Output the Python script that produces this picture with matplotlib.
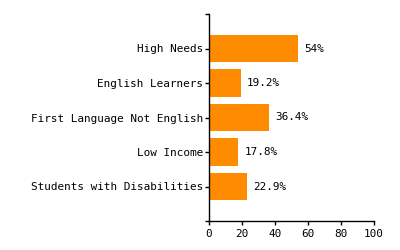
import matplotlib
matplotlib.use("Agg")
import matplotlib.pyplot as plt

# Share of students by group (%)
categories = ['High Needs', 'English Learners', 'First Language Not English',
              'Low Income', 'Students with Disabilities']
values = [54, 19.2, 36.4, 17.8, 22.9]
value_labels = ['54%', '19.2%', '36.4%', '17.8%', '22.9%']
x_ticks = [0, 20, 40, 60, 80, 100]

BAR_COLOR = '#FF8C00'
PX = 0.72  # points per pixel at dpi 100

plt.rcParams['font.family'] = ['DejaVu Sans Mono']
plt.rcParams['font.size'] = 7.9

fig = plt.figure(figsize=(4, 2.5), dpi=100)
ax = fig.add_axes([209 / 400, 1 - 221 / 250, 165 / 400, 207 / 250])

pos = list(range(1, len(categories) + 1))
ax.barh(pos, values, height=0.8, color=BAR_COLOR)
for p, v, lab in zip(pos, values, value_labels):
    ax.annotate(lab, (v, p), xytext=(6, 0), textcoords='offset pixels',
                va='center', ha='left', color='black')

ax.set_ylim(len(categories) + 1, 0)
ax.set_xlim(0, 100)
ax.set_yticks(pos)
ax.set_yticklabels(categories)
ax.set_yticks([0, len(categories) + 1], minor=True)
ax.set_xticks(x_ticks)

for s in ['top', 'right']:
    ax.spines[s].set_visible(False)
for s in ['left', 'bottom']:
    ax.spines[s].set_linewidth(1)
    ax.spines[s].set_color('black')

ax.tick_params(axis='both', which='both', length=4 * PX, width=1, color='black')
ax.tick_params(axis='y', pad=2 * PX)
ax.tick_params(axis='x', pad=4 * PX)

fig.savefig('out.png', dpi=100)
